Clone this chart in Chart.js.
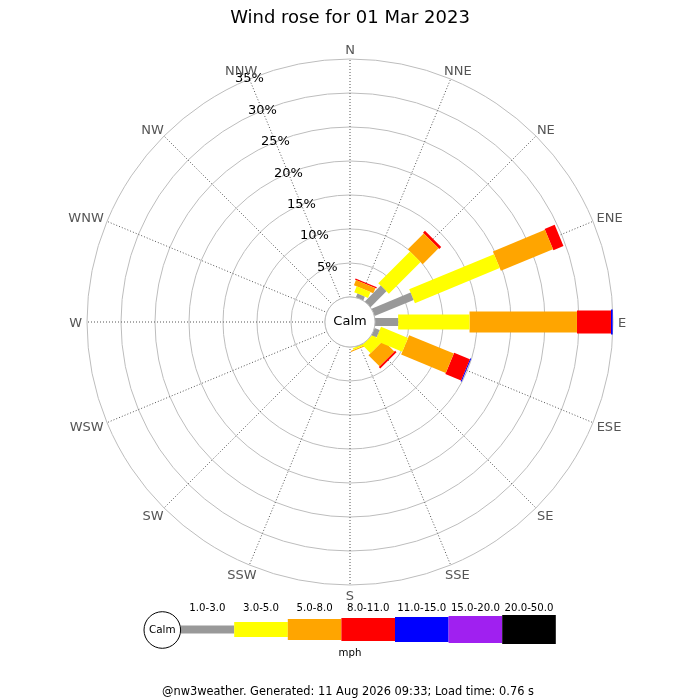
<!DOCTYPE html>
<html>
<head>
<meta charset="utf-8">
<title>Wind rose for 01 Mar 2023</title>
<script src="https://cdn.jsdelivr.net/npm/chart.js"></script>
<style>
  html, body { margin: 0; padding: 0; background: #ffffff; }
  #wrap { width: 700px; height: 700px; }
</style>
</head>
<body>
<div id="wrap"><canvas id="windRose" width="700" height="700"></canvas></div>
<script>
/* === Wind rose - 01 Mar 2023 === */

// directions, clockwise from north
const directions = ["N", "NNE", "NE", "ENE", "E", "ESE", "SE", "SSE",
                    "S", "SSW", "SW", "WSW", "W", "WNW", "NW", "NNW"];

// speed bins (mph)
const speedBins = ["1.0-3.0", "3.0-5.0", "5.0-8.0", "8.0-11.0", "11.0-15.0", "15.0-20.0", "20.0-50.0"];

// % of the day per direction, one array per speed bin
const speed1to3   = [0, 0.6, 3.3, 6.2, 3.4, 0.8, 0,   0.05, 0, 0, 0, 0, 0, 0, 0, 0];
const speed3to5   = [0, 0.95, 6.6, 13.5, 10.5, 4.3, 1.7, 0.25, 0, 0, 0, 0, 0, 0, 0, 0];
const speed5to8   = [0, 0.8, 3.3, 8.3, 15.8, 7.1, 2.3, 0.15, 0, 0, 0, 0, 0, 0, 0, 0];
const speed8to11  = [0, 0.2, 0.4, 1.6, 5.0, 2.5, 0.3, 0,    0, 0, 0, 0, 0, 0, 0, 0];
const speed11to15 = [0, 0,   0,   0,   0.25, 0.15, 0, 0,    0, 0, 0, 0, 0, 0, 0, 0];
const speed15to20 = [0, 0,   0,   0,   0,   0,   0,   0,    0, 0, 0, 0, 0, 0, 0, 0];
const speed20to50 = [0, 0,   0,   0,   0,   0,   0,   0,    0, 0, 0, 0, 0, 0, 0, 0];

// rings
const ringValues = [5, 10, 15, 20, 25, 30, 35];
const tickLabels = ["5%", "10%", "15%", "20%", "25%", "30%", "35%"];

/* --- styles --- */
const series = [speed1to3, speed3to5, speed5to8, speed8to11, speed11to15, speed15to20, speed20to50];
const binColors = ["#999999", "#ffff00", "#ffa500", "#ff0000", "#0000ff", "#a020f0", "#000000"];
const binWidths = [8, 15, 21, 23, 25, 27, 29];
const calmOffset = 3.68;      // room left in the middle for the calm circle (in %)
const gridColor = "#bdbdbd";
const labelColor = "#555555";
const FONT = "DejaVu Sans";

Chart.defaults.font.family = FONT;

// where each segment starts (stacked outwards)
const starts = series.map((vals, b) =>
  vals.map((v, i) => series.slice(0, b).reduce((s, arr) => s + arr[i], 0))
);

// each segment = one point drawn as a thick rotated line
const datasets = series.map((vals, b) => ({
  label: speedBins[b],
  data: vals.map((v, i) => (v > 0 ? starts[b][i] + v / 2 : null)),
  showLine: false,
  fill: false,
  borderWidth: 0,
  backgroundColor: "transparent",
  pointStyle: "line",
  pointBackgroundColor: "transparent",
  pointBorderColor: binColors[b],
  pointBorderWidth: binWidths[b],
  pointRotation: (c) => {
    const r = c.chart.scales.r;
    return r ? r.getIndexAngle(c.dataIndex) * 180 / Math.PI - 90 : 0;
  },
  pointRadius: (c) => {
    const r = c.chart.scales.r;
    const v = vals[c.dataIndex];
    if (!r || !v) return 0;
    const s = starts[b][c.dataIndex];
    return (r.getDistanceFromCenterForValue(s + v) - r.getDistanceFromCenterForValue(s)) / 2;
  }
}));

/* --- labels, calm circle, legend, footer --- */
const roseDecor = {
  id: "roseDecor",
  afterDatasetsDraw(chart) {
    const ctx = chart.ctx;
    const r = chart.scales.r;
    const cx = r.xCenter, cy = r.yCenter;
    const calmR = r.getDistanceFromCenterForValue(0);

    ctx.save();
    // calm circle
    ctx.beginPath();
    ctx.arc(cx, cy, calmR, 0, Math.PI * 2);
    ctx.fillStyle = "#ffffff";
    ctx.fill();
    ctx.strokeStyle = gridColor;
    ctx.lineWidth = 1;
    ctx.stroke();
    ctx.fillStyle = "#000";
    ctx.font = "13px '" + FONT + "'";
    ctx.textAlign = "center";
    ctx.textBaseline = "middle";
    ctx.fillText("Calm", cx, cy);

    // % labels along NNW spoke
    ringValues.forEach((v, k) => {
      const p = r.getPointPositionForValue(15, v);
      ctx.fillText(tickLabels[k], p.x, p.y);
    });

    // direction labels
    ctx.fillStyle = labelColor;
    ctx.textBaseline = "alphabetic";
    const capH = 9.5;
    directions.forEach((d, i) => {
      const a = r.getIndexAngle(i);
      const p = r.getPointPosition(i, r.drawingArea + 5);
      const w = ctx.measureText(d).width;
      const x = p.x + (w / 2) * Math.sin(a);
      const y = p.y - (capH / 2) * Math.cos(a);
      ctx.fillText(d, x, y + capH / 2);
    });
    ctx.restore();
  },
  afterDraw(chart) {
    const ctx = chart.ctx;
    const mid = chart.width / 2;
    const lgY = 629.5, segW = 53.6, circX = 162.3, circR = 18.3;
    const x0 = circX + circR;

    ctx.save();
    // legend bars
    chart.data.datasets.forEach((ds, b) => {
      const h = binWidths[b];
      ctx.fillStyle = ds.pointBorderColor;
      ctx.fillRect(x0 + b * segW, lgY - h / 2, segW, h);
      ctx.fillStyle = "#000";
      ctx.font = "10.2px '" + FONT + "'";
      ctx.textAlign = "center";
      ctx.textBaseline = "alphabetic";
      ctx.fillText(ds.label, x0 + b * segW + segW / 2, 611);
    });
    // legend calm circle
    ctx.beginPath();
    ctx.arc(circX, lgY + 0.5, circR, 0, Math.PI * 2);
    ctx.fillStyle = "#fff";
    ctx.fill();
    ctx.strokeStyle = "#000";
    ctx.lineWidth = 1;
    ctx.stroke();
    ctx.fillStyle = "#000";
    ctx.font = "10.4px '" + FONT + "'";
    ctx.textBaseline = "middle";
    ctx.fillText("Calm", circX, lgY + 0.5);

    ctx.textBaseline = "alphabetic";
    ctx.font = "10.2px '" + FONT + "'";
    ctx.fillText("mph", mid, 656);

    ctx.font = "11.4px '" + FONT + "'";
    ctx.fillText("@nw3weather. Generated: 11 Aug 2026 09:33; Load time: 0.76 s", mid - 2, 695);
    ctx.restore();
  }
};

new Chart(document.getElementById("windRose"), {
  type: "radar",
  data: { labels: directions, datasets: datasets },
  options: {
    responsive: false,
    animation: false,
    events: [],
    layout: { padding: { left: 87, right: 87, top: 0, bottom: 115 } },
    plugins: {
      legend: { display: false },
      tooltip: { enabled: false },
      title: {
        display: true,
        text: "Wind rose for 01 Mar 2023",
        color: "#000",
        font: { family: FONT, size: 18, weight: "normal" },
        padding: { top: 8, bottom: 29.4 }
      }
    },
    scales: {
      r: {
        min: -calmOffset,
        max: 35,
        afterBuildTicks: (scale) => {
          scale.ticks = [0].concat(ringValues).map((v) => ({ value: v }));
        },
        ticks: { display: false },
        pointLabels: { display: false },
        grid: { circular: true, color: gridColor, lineWidth: 1 },
        angleLines: { display: true, color: "#555555", lineWidth: 1, borderDash: [1, 2] }
      }
    }
  },
  plugins: [roseDecor]
});
</script>
</body>
</html>
